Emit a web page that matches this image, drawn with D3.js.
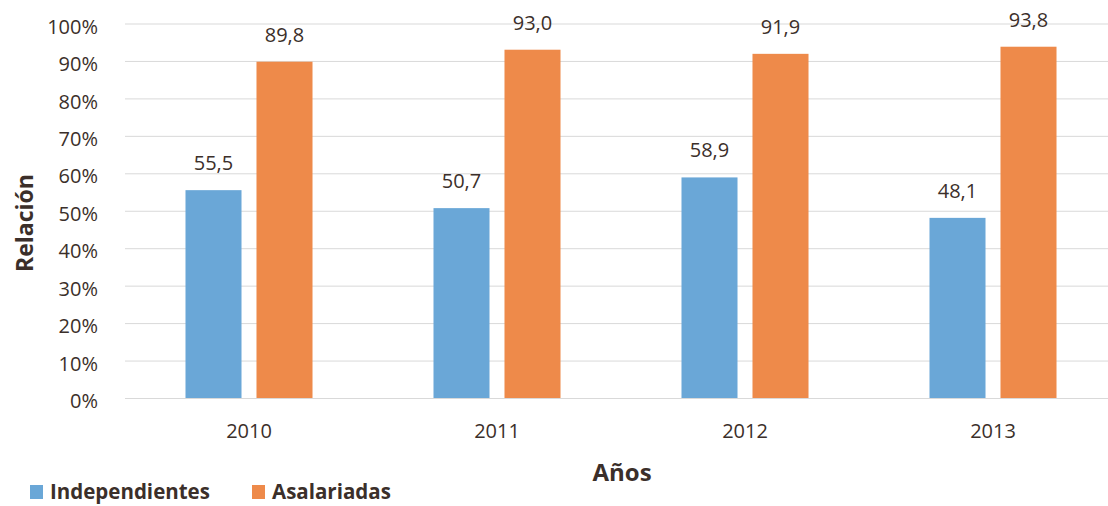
<!DOCTYPE html>
<html>
<head>
<meta charset="utf-8">
<script src="https://cdn.jsdelivr.net/npm/d3@7"></script>
<style>
  body { margin: 0; background: #fff; }
  text { font-family: "Open Sans", sans-serif; fill: #3b2f2a; }
</style>
</head>
<body>
<script>
// Data
const years = ["2010", "2011", "2012", "2013"];
const series = ["Independientes", "Asalariadas"];
const independientes = [55.5, 50.7, 58.9, 48.1];
const asalariadas = [89.8, 93.0, 91.9, 93.8];
const yTicks = [0, 0.1, 0.2, 0.3, 0.4, 0.5, 0.6, 0.7, 0.8, 0.9, 1];
const colors = ["#6aa7d7", "#ee8a4a"];

// Width and Height
const w = 1108;
const h = 506;

// plot area
const plotLeft = 125;
const plotRight = 1117;
const plotTop = 23.5;
const plotBottom = 398;

// Create SVG
const svg = d3.select("body")
                .append("svg")
                .attr("width", w)
                .attr("height", h);

// Scales
const x0 = d3.scaleBand()
                .domain(years)
                .range([plotLeft, plotRight]);

const x1 = d3.scaleBand()
                .domain(series)
                .range([0, x0.bandwidth()])
                .paddingInner(0.211)
                .paddingOuter(0.852);

const y = d3.scaleLinear()
                .domain([0, 1])
                .range([plotBottom, plotTop]);

// Y axis with gridlines
const yAxis = svg.append("g")
                .attr("transform", "translate(" + plotLeft + ",0)")
                .call(d3.axisLeft(y)
                        .tickValues(yTicks)
                        .tickFormat(d3.format(".0%"))
                        .tickSize(-(plotRight - plotLeft))
                        .tickPadding(27));

yAxis.select(".domain").remove();
yAxis.selectAll("line").attr("stroke", "#d9d9d9").attr("stroke-width", 1);
yAxis.selectAll("text")
        .attr("dy", "0.48em")
        .style("font-size", "20px")
        .style("font-family", "'Open Sans', sans-serif")
        .attr("fill", "#3b2f2a");

// X axis
const xAxis = svg.append("g")
                .attr("transform", "translate(0," + plotBottom + ")")
                .call(d3.axisBottom(x0).tickSize(0));

xAxis.select(".domain").remove();
xAxis.selectAll("text")
        .attr("y", 40)
        .attr("dy", 0)
        .style("font-size", "20px")
        .style("font-family", "'Open Sans', sans-serif")
        .attr("fill", "#3b2f2a");

// rows for the bars
const rows = years.map(function(yr, i) {
    return [
        { year: yr, key: series[0], value: independientes[i] },
        { year: yr, key: series[1], value: asalariadas[i] }
    ];
});

const groups = svg.selectAll("g.year")
                .data(rows)
                .enter()
                .append("g")
                .attr("class", "year")
                .attr("transform", function(d) { return "translate(" + x0(d[0].year) + ",0)"; });

groups.selectAll("rect")
        .data(function(d) { return d; })
        .enter()
        .append("rect")
        .attr("x", function(d) { return x1(d.key); })
        .attr("y", function(d) { return y(d.value / 100); })
        .attr("width", x1.bandwidth())
        .attr("height", function(d) { return plotBottom - y(d.value / 100); })
        .style("fill", function(d, i) { return colors[i]; });

// value labels
groups.selectAll("text.val")
        .data(function(d) { return d; })
        .enter()
        .append("text")
        .attr("class", "val")
        .attr("x", function(d) { return x1(d.key) + x1.bandwidth() / 2; })
        .attr("y", function(d) { return y(d.value / 100) - 20; })
        .attr("text-anchor", "middle")
        .style("font-size", "20px")
        .text(function(d) { return d.value.toFixed(1).replace(".", ","); });

// Axis titles
svg.append("text")
    .attr("x", (plotLeft + plotRight) / 2 + 1)
    .attr("y", 481)
    .attr("text-anchor", "middle")
    .style("font-size", "24px")
    .style("font-weight", "bold")
    .text("Años");

svg.append("text")
    .attr("transform", "translate(33,223) rotate(-90)")
    .attr("text-anchor", "middle")
    .style("font-size", "23px")
    .style("font-weight", "bold")
    .text("Relación");

// Legend (kept just inside the bottom edge so descenders are not cut)
const legendX = [30, 252];
const legend = svg.selectAll("g.legend")
                .data(series)
                .enter()
                .append("g")
                .attr("class", "legend")
                .attr("transform", function(d, i) { return "translate(" + legendX[i] + ",485)"; });

legend.append("rect")
        .attr("width", 13)
        .attr("height", 14)
        .style("fill", function(d, i) { return colors[i]; });

legend.append("text")
        .attr("x", 20)
        .attr("y", 14)
        .style("font-size", "20.5px")
        .style("font-weight", "bold")
        .text(function(d) { return d; });
</script>
</body>
</html>
